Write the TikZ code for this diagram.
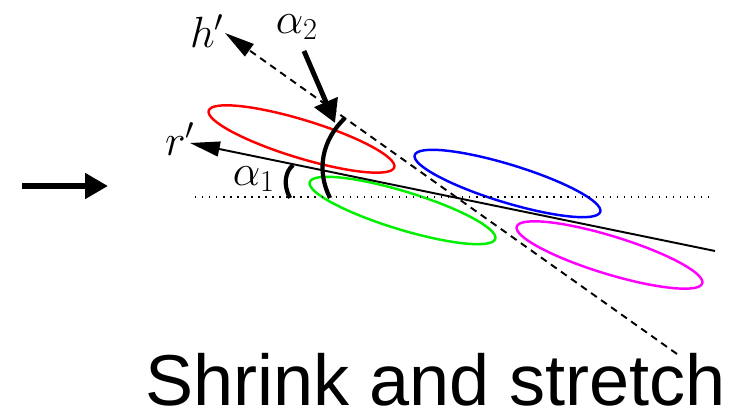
\documentclass[tikz,border=0pt]{standalone}
\usepackage{fontspec}
\setsansfont{Liberation Sans}
\usepackage{amsmath}
\usepackage{tikz}
\usetikzlibrary{arrows.meta, positioning, calc}
\definecolor{myred}{RGB}{255,0,0}
\definecolor{mygreen}{RGB}{0,240,0}
\definecolor{myblue}{RGB}{0,0,255}
\definecolor{mymagenta}{RGB}{255,0,255}
\tikzset{
  ring/.style={line width=1.4pt, rotate=-17},
  thinarrow/.style={-{Triangle[length=17pt, width=8.5pt]}, line width=1.1pt},
  bigarrow/.style={-{Triangle[length=13pt, width=14pt]}, line width=3.2pt},
  anglearc/.style={line width=2.4pt},
  mathlabel/.style={font=\fontsize{26}{30}\selectfont, inner sep=0pt}
}

\begin{document}
\begin{tikzpicture}[x=0.02cm, y=0.02cm]
  \useasboundingbox (0,0) rectangle (735,415);

  % Points
  \coordinate (start) at (22,229);
  \coordinate (flow) at (108,229);
  \coordinate (hleft) at (195,218);
  \coordinate (hright) at (710,218);
  \coordinate (O) at (454,218);
  \coordinate (rtip) at (190,272);
  \coordinate (rend) at (715,164);
  \coordinate (htip) at (225,382);
  \coordinate (hend) at (677,61);
  \coordinate (ptail) at (304,364);
  \coordinate (phead) at (335,292);

  % Ellipses
  \draw[myred, shift={(301.5,276)}, ring] (0,0) ellipse [x radius=97, y radius=19];
  \draw[mygreen, shift={(402.5,204.5)}, ring] (0,0) ellipse [x radius=97, y radius=19];
  \draw[myblue, shift={(507.5,231.5)}, ring] (0,0) ellipse [x radius=97, y radius=19];
  \draw[mymagenta, shift={(609.5,160)}, ring] (0,0) ellipse [x radius=97, y radius=19];

  % Lines
  \draw[bigarrow] (start) -- (flow);
  \draw[line width=0.8pt, dash pattern=on 0.8pt off 3.2pt] (hleft) -- (hright);
  \draw[thinarrow] (rend) -- (rtip);
  \draw[thinarrow, dash pattern=on 4pt off 3pt] (hend) -- (htip);
  \draw[bigarrow, line width=2.8pt] (ptail) -- (phead);

  % Angles
  \draw[anglearc] (330,217) .. controls (316,245) and (322,275) .. (345,297);
  \draw[anglearc] (290,217) .. controls (283,230) and (285,243) .. (293,250);

  % Labels
  \node[mathlabel] (hlab) at (207,384) {$h'$};
  \node[mathlabel] (rlab) at (180,276) {$r'$};
  \node[mathlabel] (a2lab) at (297,388) {$\alpha_2$};
  \node[mathlabel] (a1lab) at (254,236) {$\alpha_1$};
  \node[anchor=base west, inner sep=0pt, font=\sffamily\fontsize{41}{48}\selectfont] (title) at (145,9) {Shrink and stretch};
\end{tikzpicture}
\end{document}
